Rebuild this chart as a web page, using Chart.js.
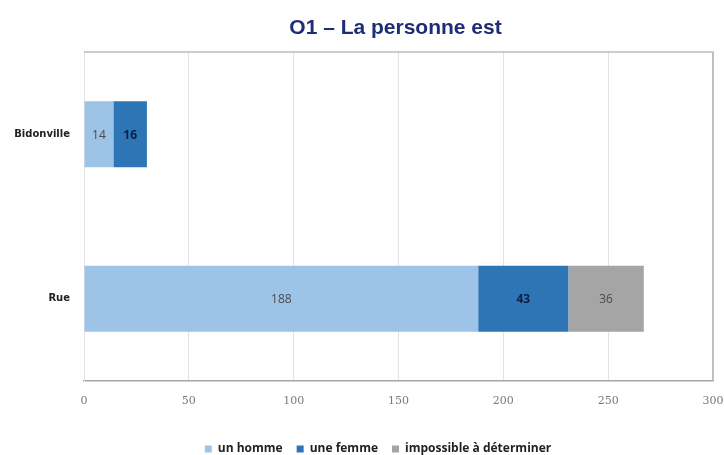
<!DOCTYPE html>
<html>
<head>
<meta charset="utf-8">
<script src="https://cdn.jsdelivr.net/npm/chart.js@4.4.1/dist/chart.umd.min.js"></script>
<style>
  html, body { margin: 0; padding: 0; background: #fff; }
  #wrap { width: 724px; height: 455px; position: relative; }
</style>
</head>
<body>
<div id="wrap"><canvas id="myChart"></canvas></div>
<script>
const chartTitle = 'O1 – La personne est';
const places = ['Bidonville', 'Rue'];
const seriesNames = ['un homme', 'une femme', 'impossible à déterminer'];
const hommes = [14, 188];
const femmes = [16, 43];
const indetermines = [null, 36];
const xTicks = [0, 50, 100, 150, 200, 250, 300];

const colors = ['#9DC3E6', '#2E75B6', '#A5A5A5'];

// title centred over the plot area, plus top/right frame lines
const framePlugin = {
    id: 'frame',
    afterLayout(chart) {
        // legend sits a bit right of the canvas centre in the original
        if (chart.legend) {
            chart.legend.left += 16;
            chart.legend.right += 16;
        }
    },
    afterDraw(chart) {
        const ctx = chart.ctx;
        const a = chart.chartArea;
        ctx.save();
        ctx.strokeStyle = '#BDBDBD';
        ctx.lineWidth = 1.5;
        ctx.beginPath();
        ctx.moveTo(a.left, a.top);
        ctx.lineTo(a.right, a.top);
        ctx.lineTo(a.right, a.bottom);
        ctx.stroke();
        ctx.fillStyle = '#1E2D74';
        ctx.font = 'bold 21px "Liberation Sans", Arial, sans-serif';
        ctx.textAlign = 'center';
        ctx.textBaseline = 'middle';
        ctx.fillText(chartTitle, (a.left + a.right) / 2 - 3, 28);
        ctx.restore();
    }
};

const valueLabels = {
    id: 'valueLabels',
    afterDatasetsDraw(chart) {
        const ctx = chart.ctx;
        ctx.save();
        ctx.textAlign = 'center';
        ctx.textBaseline = 'middle';
        chart.data.datasets.forEach((ds, i) => {
            const meta = chart.getDatasetMeta(i);
            meta.data.forEach((bar, j) => {
                const v = ds.data[j];
                if (v === null || v === undefined) return;
                const x = (bar.x + bar.base) / 2;
                if (i === 1) {
                    ctx.fillStyle = '#0E1F45';
                    ctx.font = 'bold 12px "Open Sans", sans-serif';
                } else {
                    ctx.fillStyle = '#4A4A4A';
                    ctx.font = '12px "Open Sans", sans-serif';
                }
                ctx.fillText(v, x, bar.y + 1);
            });
        });
        ctx.restore();
    }
};

const ctx = document.getElementById('myChart');
new Chart(ctx, {
    type: 'bar',
    data: {
        labels: places,
        datasets: [
            { label: seriesNames[0], data: hommes, backgroundColor: colors[0] },
            { label: seriesNames[1], data: femmes, backgroundColor: colors[1] },
            { label: seriesNames[2], data: indetermines, backgroundColor: colors[2] }
        ]
    },
    options: {
        indexAxis: 'y',
        responsive: true,
        maintainAspectRatio: false,
        animation: false,
        datasets: {
            bar: { categoryPercentage: 1, barPercentage: 0.4 }
        },
        layout: { padding: { top: 52, right: 0, left: 0, bottom: -10 } },
        scales: {
            x: {
                stacked: true,
                min: 0,
                max: 300,
                afterBuildTicks(scale) {
                    scale.ticks = xTicks.map(v => ({ value: v }));
                },
                afterFit(scale) {
                    scale.height = 48;
                    scale.paddingLeft = 0;
                    scale.paddingRight = 11;
                },
                grid: {
                    color: c => c.index === xTicks.length - 1 ? '#BDBDBD' : '#E3E3E3',
                    lineWidth: c => c.index === xTicks.length - 1 ? 1.5 : 1,
                    drawTicks: false
                },
                border: { color: '#A6A6A6', width: 1.5 },
                ticks: {
                    color: '#7A7A7A',
                    padding: 14,
                    font: { family: '"DejaVu Serif", serif', size: 11 }
                }
            },
            y: {
                stacked: true,
                afterFit(scale) { scale.width = 84; },
                grid: { display: false, drawTicks: false },
                border: { color: '#E3E3E3' },
                ticks: {
                    color: '#222',
                    padding: 14,
                    font: { family: '"DejaVu Sans", sans-serif', size: 10, weight: 'bold' }
                }
            }
        },
        plugins: {
            legend: {
                position: 'bottom',
                labels: {
                    boxWidth: 7,
                    boxHeight: 7,
                    padding: 14,
                    color: '#222',
                    font: { family: '"Open Sans", sans-serif', size: 12, weight: 'bold' }
                }
            },
            tooltip: { enabled: false },
            title: { display: false }
        }
    },
    plugins: [framePlugin, valueLabels]
});
</script>
</body>
</html>
